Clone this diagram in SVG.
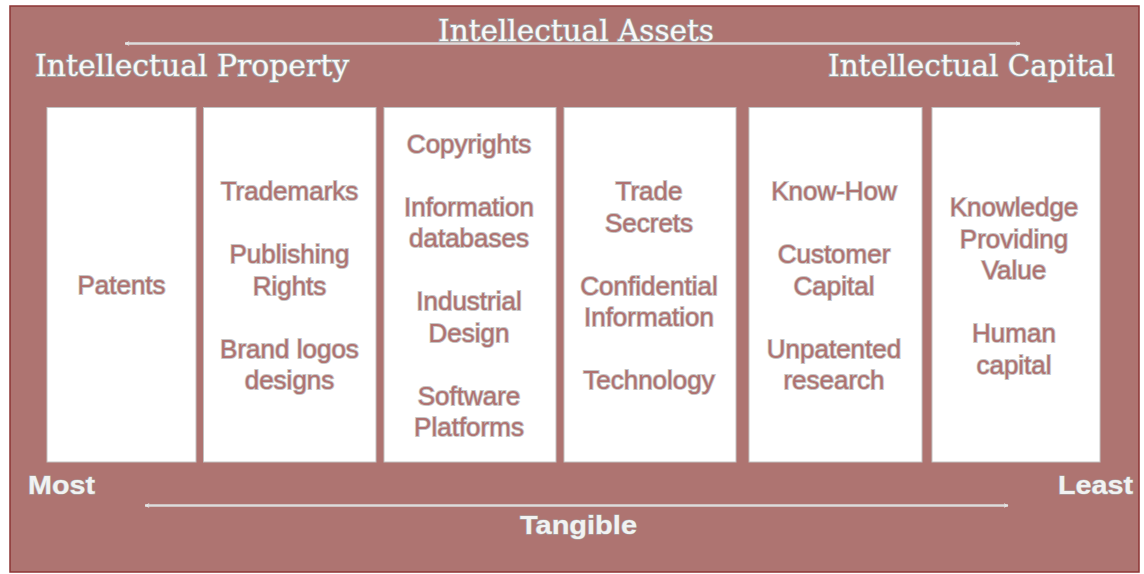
<svg xmlns="http://www.w3.org/2000/svg" width="1144" height="574" viewBox="0 0 1144 574">
<defs>
<marker id="ah" viewBox="0 0 10 10" refX="9" refY="5" markerWidth="5" markerHeight="5" orient="auto-start-reverse" markerUnits="userSpaceOnUse">
<path d="M0,0 L10,5 L0,10 L3,5 Z" fill="#e4e4e4"/>
</marker>
</defs>
<style>
.bg{fill:#ae7471;stroke:#8c3434;stroke-width:1.5}
.col{fill:#ffffff;stroke:#c2c2c2;stroke-width:1}
.item{font-family:"Liberation Sans",Arial,sans-serif;font-size:26px;fill:#b07270;stroke:#c6c6c6;stroke-width:1.8;paint-order:stroke;text-anchor:middle}
.head{font-family:"DejaVu Serif","Liberation Serif",serif;font-size:29px;fill:#f8f8f8;stroke:#a4a4a4;stroke-width:1.8;paint-order:stroke}
.axis{font-family:"Liberation Sans",Arial,sans-serif;font-size:26px;font-weight:bold;fill:#f2f2f2;stroke:#a8a8a8;stroke-width:1.2;paint-order:stroke}
.arrow{stroke:#dcdcdc;stroke-width:2.5;fill:none}
</style>
<rect class="bg" x="10" y="6" width="1129" height="566"/>
<g id="headers">
<text class="head" x="438" y="40.7" textLength="276" lengthAdjust="spacingAndGlyphs">Intellectual Assets</text>
<text class="head" x="35" y="75.7" textLength="314" lengthAdjust="spacingAndGlyphs">Intellectual Property</text>
<text class="head" x="828" y="75.7" textLength="287" lengthAdjust="spacingAndGlyphs">Intellectual Capital</text>
<text class="axis" x="28" y="494" textLength="67" lengthAdjust="spacingAndGlyphs">Most</text>
<text class="axis" x="1058" y="494" textLength="75" lengthAdjust="spacingAndGlyphs">Least</text>
<text class="axis" x="520" y="534" textLength="117" lengthAdjust="spacingAndGlyphs">Tangible</text>
</g>
<g id="connectors">
<line class="arrow" x1="125" y1="43.5" x2="1020" y2="43.5" marker-start="url(#ah)" marker-end="url(#ah)"/>
<line class="arrow" x1="145" y1="505.5" x2="1008" y2="505.5" marker-start="url(#ah)" marker-end="url(#ah)"/>
</g>
<g id="col1">
<rect class="col" x="47" y="107.5" width="149" height="354.5"/>
<text class="item" x="121.5" y="294">Patents</text>
</g>
<g id="col2">
<rect class="col" x="203.5" y="107.5" width="172.5" height="354.5"/>
<text class="item" x="289.5" y="200">Trademarks</text>
<text class="item" x="289.5" y="263">Publishing</text>
<text class="item" x="289.5" y="294.5">Rights</text>
<text class="item" x="289.5" y="357.5">Brand logos</text>
<text class="item" x="289.5" y="389">designs</text>
</g>
<g id="col3">
<rect class="col" x="384" y="107.5" width="172" height="354.5"/>
<text class="item" x="469" y="152.5">Copyrights</text>
<text class="item" x="469" y="215.5">Information</text>
<text class="item" x="469" y="247">databases</text>
<text class="item" x="469" y="310">Industrial</text>
<text class="item" x="469" y="341.5">Design</text>
<text class="item" x="469" y="404.5">Software</text>
<text class="item" x="469" y="436">Platforms</text>
</g>
<g id="col4">
<rect class="col" x="564" y="107.5" width="172" height="354.5"/>
<text class="item" x="649" y="200">Trade</text>
<text class="item" x="649" y="231.5">Secrets</text>
<text class="item" x="649" y="294.5">Confidential</text>
<text class="item" x="649" y="326">Information</text>
<text class="item" x="649" y="389">Technology</text>
</g>
<g id="col5">
<rect class="col" x="749" y="107.5" width="173" height="354.5"/>
<text class="item" x="834" y="200">Know-How</text>
<text class="item" x="834" y="263">Customer</text>
<text class="item" x="834" y="294.5">Capital</text>
<text class="item" x="834" y="357.5">Unpatented</text>
<text class="item" x="834" y="389">research</text>
</g>
<g id="col6">
<rect class="col" x="932" y="107.5" width="168" height="354.5"/>
<text class="item" x="1014" y="216">Knowledge</text>
<text class="item" x="1014" y="247.5">Providing</text>
<text class="item" x="1014" y="279">Value</text>
<text class="item" x="1014" y="342">Human</text>
<text class="item" x="1014" y="373.5">capital</text>
</g>
</svg>
